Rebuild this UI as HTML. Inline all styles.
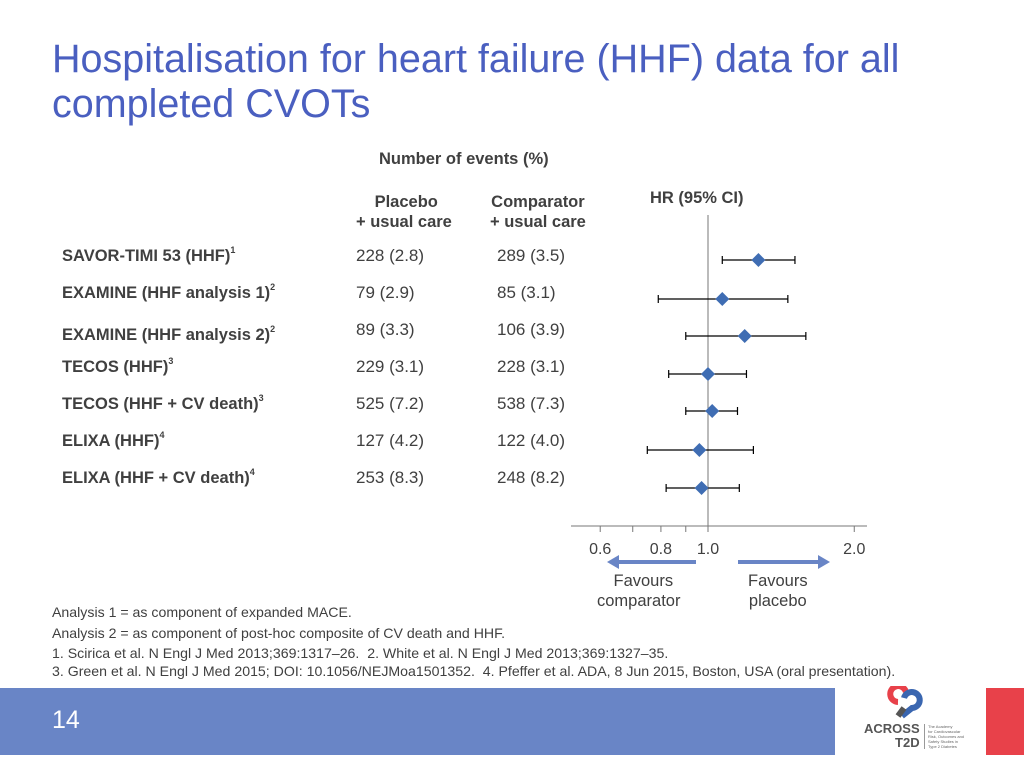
<!DOCTYPE html>
<html><head><meta charset="utf-8"><style>
body{margin:0;width:1024px;height:768px;position:relative;overflow:hidden;background:#fff;font-family:"Liberation Sans",Arial,sans-serif;color:#404040}
.a{position:absolute;white-space:nowrap}
.b{font-weight:bold}
sup{font-size:9px;vertical-align:8px;line-height:0}
</style></head><body>
<div class="a" style="left:52px;top:37px;font-size:39.5px;line-height:45px;color:#4a5fc0">Hospitalisation for heart failure (HHF) data for all<br>completed CVOTs</div>
<div class="a b" style="left:379px;top:150px;font-size:16.5px">Number of events (%)</div>
<div class="a b" style="left:356px;top:192px;font-size:16.5px;line-height:20px;text-align:center">&nbsp;Placebo<br>+ usual care</div>
<div class="a b" style="left:490px;top:192px;font-size:16.5px;line-height:20px;text-align:center">Comparator<br>+ usual care</div>
<div class="a b" style="left:650px;top:189px;font-size:16.5px">HR (95% CI)</div>
<div id="rows"></div>
<svg class="a" style="left:0;top:0" width="1024" height="768" id="plot"></svg>
<div class="a" style="left:597px;top:571px;font-size:16.5px;line-height:20px;text-align:center">&nbsp;&nbsp;Favours<br>comparator</div>
<div class="a" style="left:748px;top:571px;font-size:16.5px;line-height:20px;text-align:center">Favours<br>placebo</div>
<div class="a" style="left:52px;top:602px;font-size:14px;line-height:20px;transform:scaleX(1.01);transform-origin:left"><div style="height:21px">Analysis 1 = as component of expanded MACE.</div><div style="height:20px">Analysis 2 = as component of post-hoc composite of CV death and HHF.</div><div style="height:18px">1. Scirica et al. N Engl J Med 2013;369:1317–26.&nbsp; 2. White et al. N Engl J Med 2013;369:1327–35.</div><div>3. Green et al. N Engl J Med 2015; DOI: 10.1056/NEJMoa1501352.&nbsp; 4. Pfeffer et al. ADA, 8 Jun 2015, Boston, USA (oral presentation).</div></div>
<div class="a" style="left:0;top:688px;width:835px;height:67px;background:#6985c6"></div>
<div class="a" style="left:52px;top:706px;font-size:25px;color:#fff">14</div>
<div class="a" style="left:986px;top:688px;width:38px;height:67px;background:#e8414a"></div>
<div class="a" style="left:862px;top:686px;width:110px;height:70px">
<svg width="40" height="34" style="position:absolute;left:22px;top:0"><path d="M22 6 a8 8 0 1 0 -8 10" stroke="#e8414a" stroke-width="6" fill="none"/><path d="M20 12 a8 8 0 1 1 8 10 L18 30" stroke="#3a66b0" stroke-width="6" fill="none"/><path d="M20 22 L14 30" stroke="#555" stroke-width="6"/></svg>
<div class="a b" style="left:2px;top:36px;font-size:13px;color:#555;line-height:14px;text-align:right">ACROSS<br>&nbsp;&nbsp;&nbsp;&nbsp;&nbsp;T2D</div>
<div class="a" style="left:62px;top:38px;font-size:4px;line-height:5px;color:#666;border-left:1px solid #999;padding-left:3px">The Academy<br>for Cardiovascular<br>Risk, Outcomes and<br>Safety Studies in<br>Type 2 Diabetes</div>
</div>
<script>
const labels=["SAVOR-TIMI 53 (HHF)","EXAMINE (HHF analysis 1)","EXAMINE (HHF analysis 2)","TECOS (HHF)","TECOS (HHF + CV death)","ELIXA (HHF)","ELIXA (HHF + CV death)"];
const refs=["1","2","2","3","3","4","4"];
const placebo=["228 (2.8)","79 (2.9)","89 (3.3)","229 (3.1)","525 (7.2)","127 (4.2)","253 (8.3)"];
const comparator=["289 (3.5)","85 (3.1)","106 (3.9)","228 (3.1)","538 (7.3)","122 (4.0)","248 (8.2)"];
const hr=[1.27,1.07,1.19,1.00,1.02,0.96,0.97];
const lo=[1.07,0.79,0.90,0.83,0.90,0.75,0.82];
const hi=[1.51,1.46,1.59,1.20,1.15,1.24,1.16];
const tickVals=[0.6,0.7,0.8,0.9,1.0,2.0];
const tickLabels=["0.6","","0.8","","1.0","2.0"];
const rowY=[260,299,336,374,411,450,488];
const labelY=[257,294,336,368,405,442,479];
const valY=[256,293,330,367,404,441,478];
function X(v){return 708+211*Math.log(v);}
const rows=document.getElementById('rows');
labels.forEach((l,i)=>{
 const d=document.createElement('div');d.className='a b';
 
 
 d.style.cssText=`left:62px;top:${labelY[i]-10}px;font-size:16.5px`;
 d.innerHTML=l+'<sup>'+refs[i]+'</sup>';rows.appendChild(d);
 [[placebo,356],[comparator,497]].forEach(([arr,x])=>{
  const e=document.createElement('div');e.className='a';
  
  
  e.style.cssText=`left:${x}px;top:${valY[i]-10}px;font-size:17px`;
  e.textContent=arr[i];rows.appendChild(e);
 });
});
const ns='http://www.w3.org/2000/svg';const svg=document.getElementById('plot');
function mk(t,a,name){const e=document.createElementNS(ns,t);for(const k in a)e.setAttribute(k,a[k]);
 
 
 svg.appendChild(e);return e;}
mk('line',{x1:X(1),x2:X(1),y1:215,y2:526,stroke:'#777','stroke-width':1},'reference-line');
mk('line',{x1:571,x2:867,y1:526,y2:526,stroke:'#777','stroke-width':1},'x-axis');
tickVals.forEach((v,i)=>{
 mk('line',{x1:X(v),x2:X(v),y1:526,y2:532,stroke:'#777'},'x-tick');
 if(tickLabels[i]){const t=mk('text',{x:X(v),y:554,'text-anchor':'middle','font-size':16,fill:'#404040','font-family':'Liberation Sans'},'x-tick-label');t.textContent=tickLabels[i];}
});
hr.forEach((v,i)=>{
 const y=rowY[i];
 mk('line',{x1:X(lo[i]),x2:X(hi[i]),y1:y,y2:y,stroke:'#000','stroke-width':1.2},'ci-line');
 mk('line',{x1:X(lo[i]),x2:X(lo[i]),y1:y-4,y2:y+4,stroke:'#000','stroke-width':1.2},'ci-cap');
 mk('line',{x1:X(hi[i]),x2:X(hi[i]),y1:y-4,y2:y+4,stroke:'#000','stroke-width':1.2},'ci-cap');
 const x=X(v);
 mk('polygon',{points:`${x},${y-7} ${x+7},${y} ${x},${y+7} ${x-7},${y}`,fill:'#3f6db3'},'hr-point');
});
mk('line',{x1:696,x2:616,y1:562,y2:562,stroke:'#6985c6','stroke-width':4},'arrow-left');
mk('polygon',{points:'607,562 619,555 619,569',fill:'#6985c6'},'arrow-left-head');
mk('line',{x1:738,x2:820,y1:562,y2:562,stroke:'#6985c6','stroke-width':4},'arrow-right');
mk('polygon',{points:'830,562 818,555 818,569',fill:'#6985c6'},'arrow-right-head');
</script>
</body></html>
